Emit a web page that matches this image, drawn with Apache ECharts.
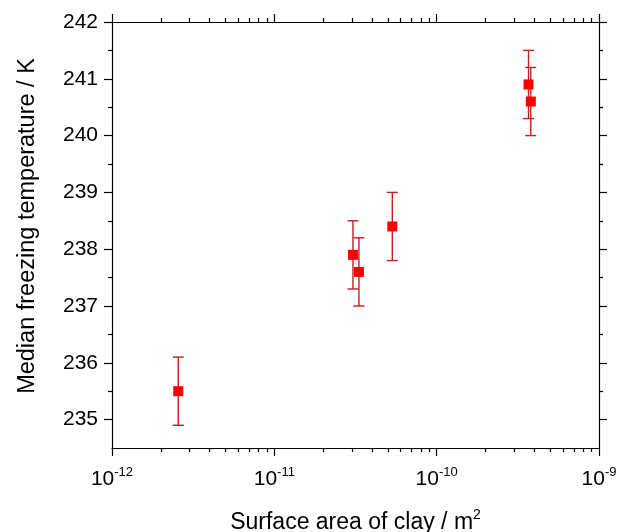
<!DOCTYPE html>
<html>
<head>
<meta charset="utf-8">
<script src="https://cdn.jsdelivr.net/npm/echarts@6/dist/echarts.min.js"></script>
<style>html,body{margin:0;padding:0;background:#fff}#c{width:619px;height:532px}</style>
</head>
<body>
<div id="c"></div>
<script>
// Data
const surfaceArea = [2.56e-12, 3.05e-11, 3.32e-11, 5.33e-11, 3.68e-10, 3.80e-10];
const medianTemp = [235.5, 237.9, 237.6, 238.4, 240.9, 240.6];
const tempError = [0.6, 0.6, 0.6, 0.6, 0.6, 0.6];
const xMajorTicks = [1e-12, 1e-11, 1e-10, 1e-9];
const xTickExponents = ['-12', '-11', '-10', '-9'];
const yMajorTicks = [235, 236, 237, 238, 239, 240, 241, 242];
const yMinorTicks = [235.5, 236.5, 237.5, 238.5, 239.5, 240.5, 241.5];
const xMinorTicks = [];
[-12, -11, -10].forEach(e => { for (let k = 2; k <= 9; k++) xMinorTicks.push(+(k * Math.pow(10, e)).toPrecision(3)); });

const FONT = "'Liberation Sans', Arial, sans-serif";
const chart = echarts.init(document.getElementById('c'), null, {renderer: 'canvas'});

const pts = surfaceArea.map((x, i) => [x, medianTemp[i]]);
const errs = surfaceArea.map((x, i) => [x, medianTemp[i] - tempError[i], medianTemp[i] + tempError[i]]);

function xAx(pos, major, labels) {
  return {
    type: 'log', logBase: 10, min: 1e-12, max: 1e-9, position: pos,
    axisLine: {show: major, lineStyle: {color: '#000', width: 1.2}},
    axisTick: {show: true, inside: false, length: major ? 8 : 4, customValues: major ? xMajorTicks : xMinorTicks, lineStyle: {color: '#000', width: 1.2}},
    axisLabel: labels ? {
      show: true, customValues: xMajorTicks, margin: 18,
      formatter: v => { const i = xMajorTicks.findIndex(t => Math.abs(Math.log10(t) - Math.log10(v)) < 1e-6); return '{b|10}{s|' + xTickExponents[i] + '}'; },
      rich: {b: {fontSize: 21, fontFamily: FONT, color: '#000'}, s: {fontSize: 13, fontFamily: FONT, color: '#000', padding: [0, 0, 14, 0]}}
    } : {show: false},
    splitLine: {show: false}
  };
}
function yAx(pos, major, labels) {
  return {
    type: 'value', min: 234.5, max: 242, position: pos,
    axisLine: {show: major, lineStyle: {color: '#000', width: 1.2}},
    axisTick: {show: true, inside: false, length: major ? 8 : 4, customValues: major ? yMajorTicks : yMinorTicks, lineStyle: {color: '#000', width: 1.2}},
    axisLabel: labels ? {show: true, customValues: yMajorTicks, margin: 14, fontSize: 21, fontFamily: FONT, color: '#000'} : {show: false},
    splitLine: {show: false}
  };
}

const xAxes = [xAx('bottom', true, true), xAx('bottom', false, false), xAx('top', true, false), xAx('top', false, false)];
xAxes[0].name = 'Surface area of clay / {b|m}{s|2}';
xAxes[0].nameLocation = 'middle';
xAxes[0].nameGap = 60;
xAxes[0].nameTextStyle = {fontSize: 23, fontFamily: FONT, color: '#000',
  rich: {b: {fontSize: 23, fontFamily: FONT, color: '#000'}, s: {fontSize: 14, fontFamily: FONT, color: '#000', padding: [0, 0, 16, 0]}}};
const yAxes = [yAx('left', true, true), yAx('left', false, false), yAx('right', true, false), yAx('right', false, false)];
yAxes[0].name = 'Median freezing temperature / K';
yAxes[0].nameLocation = 'middle';
yAxes[0].nameGap = 72;
yAxes[0].nameTextStyle = {fontSize: 23.5, fontFamily: FONT, color: '#000', padding: [0, 0, 0, 18]};

chart.setOption({
  animation: false,
  backgroundColor: '#fff',
  grid: {left: 112, right: 20, top: 22, bottom: 84, containLabel: false, outerBoundsMode: 'none'},
  xAxis: xAxes,
  yAxis: yAxes,
  series: [
    {
      type: 'custom', xAxisIndex: 0, yAxisIndex: 0, data: errs,
      renderItem: (params, api) => {
        const x = api.value(0);
        const lo = api.coord([x, api.value(1)]);
        const hi = api.coord([x, api.value(2)]);
        const w = 5.5;
        const st = {stroke: '#c41e22', lineWidth: 1.4};
        return {type: 'group', children: [
          {type: 'line', shape: {x1: lo[0], y1: lo[1], x2: hi[0], y2: hi[1]}, style: st},
          {type: 'line', shape: {x1: lo[0] - w, y1: lo[1], x2: lo[0] + w, y2: lo[1]}, style: st},
          {type: 'line', shape: {x1: hi[0] - w, y1: hi[1], x2: hi[0] + w, y2: hi[1]}, style: st}
        ]};
      },
      z: 2
    },
    {
      type: 'scatter', xAxisIndex: 0, yAxisIndex: 0, data: pts,
      symbol: 'rect', symbolSize: 10, itemStyle: {color: '#ff0000', opacity: 1}, z: 3
    }
  ]
});
</script>
</body>
</html>
